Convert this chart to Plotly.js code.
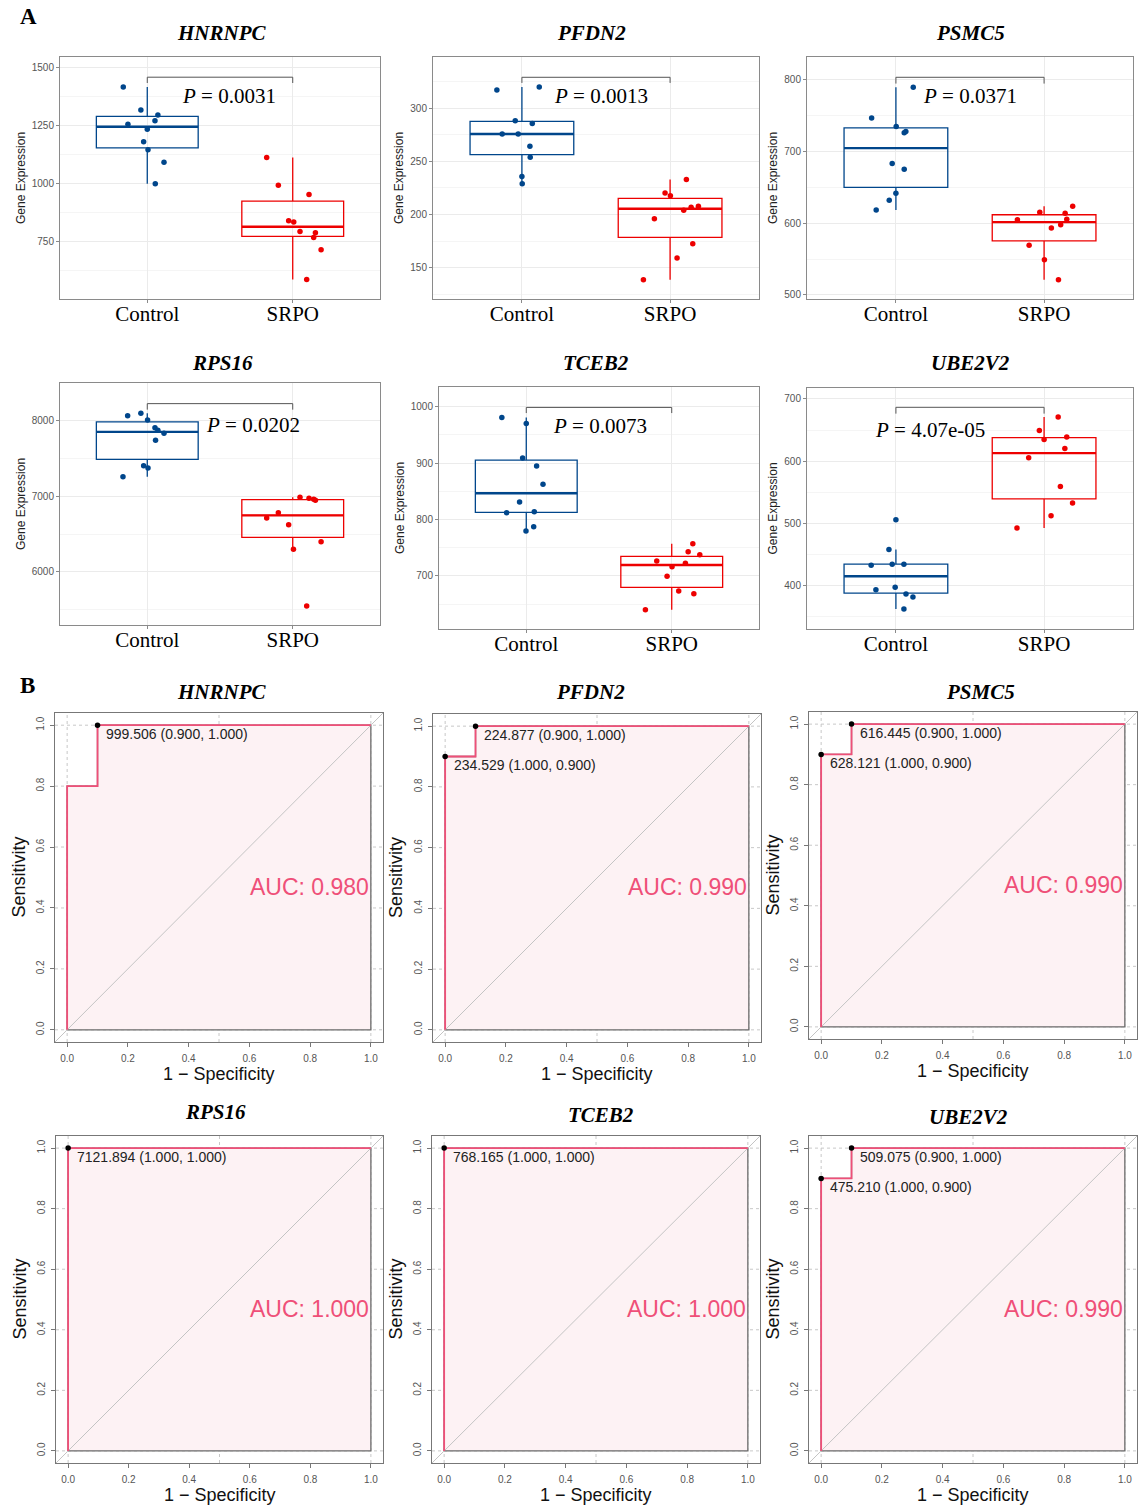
<!DOCTYPE html>
<html><head><meta charset="utf-8">
<script src="https://cdn.plot.ly/plotly-3.0.1.min.js"></script>
<style>html,body{margin:0;padding:0;background:#fff}#chart{width:1144px;height:1506px}</style>
</head><body><div id="chart"></div>
<script>
// ---------------- DATA ----------------
const genes = ['HNRNPC','PFDN2','PSMC5','RPS16','TCEB2','UBE2V2'];
const groups = ['Control','SRPO'];

// Gene expression values
const hnrnpcControl = [1418,1319,1297,1257,1272,1236,1182,1147,1093,1001];
const hnrnpcSrpo    = [1114,994,954,841,836,795,789,769,716,588];
const pfdn2Control  = [317.3,320.1,288.4,285.6,275.8,275.8,264.2,253.9,235.7,229.1];
const pfdn2Srpo     = [233.1,220.3,217.8,207.7,206.8,204.0,196.1,172.6,159.1,138.7];
const psmc5Control  = [789.8,747,734.9,727.9,726.5,683.3,675.3,641.9,632.1,618.6];
const psmc5Srpo     = [623.7,615.3,614,605.1,605.6,598.1,593.5,569.3,549.3,521.4];
const rps16Control  = [8101.5,8070.6,8013,7911.7,7876,7836.6,7744,7408,7377.5,7262.7];
const rps16Srpo     = [6989,6975,6962,6949,6786,6715,6627,6402,6300,5550];
const tceb2Control  = [981.1,970.5,909,895,862.4,831.1,812.2,814,787.4,779.7];
const tceb2Srpo     = [757.2,743.1,737.7,726.5,722.4,716.5,699.4,673.4,668.6,640.3];
const ube2v2Control = [505.6,457.4,432.2,433.8,433.8,396.8,392.6,385.6,380.8,361.5];
const ube2v2Srpo    = [671.1,649.1,638.9,634.7,620.2,605.2,559.1,532.4,512,492.2];

// Horizontal jitter of each point (in category units)
const hnrnpcControlJitter = [-0.165,-0.044,0.073,-0.133,0.053,0,-0.025,0.005,0.115,0.055];
const hnrnpcSrpoJitter    = [-0.179,-0.099,0.112,-0.028,0.007,0.050,0.156,0.144,0.195,0.096];
const pfdn2ControlJitter  = [-0.169,0.117,-0.045,0.070,-0.133,-0.025,0.054,0.056,0,0.002];
const pfdn2SrpoJitter     = [0.110,-0.034,0.002,0.191,0.142,0.092,-0.106,0.153,0.047,-0.180];
const psmc5ControlJitter  = [0.117,-0.164,0.002,0.067,0.056,-0.025,0.056,0,-0.045,-0.133];
const psmc5SrpoJitter     = [0.193,-0.029,0.142,-0.180,0.153,0.112,0.049,-0.101,0.002,0.097];
const rps16ControlJitter  = [-0.044,-0.135,0.002,0.053,0.073,0.115,0.057,-0.025,0.005,-0.167];
const rps16SrpoJitter     = [0.050,0.112,0.144,0.156,-0.099,-0.179,-0.028,0.195,0.005,0.096];
const tceb2ControlJitter  = [-0.168,0,-0.025,0.071,0.115,-0.046,-0.135,0.055,0.051,-0.002];
const tceb2SrpoJitter     = [0.145,0.113,0.193,-0.103,0.094,0.002,-0.032,0.048,0.152,-0.181];
const ube2v2ControlJitter = [0,-0.047,-0.167,-0.025,0.054,-0.005,-0.135,0.068,0.115,0.054];
const ube2v2SrpoJitter    = [0.095,-0.032,0.153,0,0.140,-0.104,0.110,0.192,0.047,-0.183];

// P values
const pValues = ['0.0031','0.0013','0.0371','0.0202','0.0073','4.07e-05'];

// ROC curves (x = 1 - specificity, y = sensitivity)
const hnrnpcRocX = [0,0,0.1,0.1,1];  const hnrnpcRocY = [0,0.8,0.8,1,1];
const pfdn2RocX  = [0,0,0.1,0.1,1];  const pfdn2RocY  = [0,0.9,0.9,1,1];
const psmc5RocX  = [0,0,0.1,0.1,1];  const psmc5RocY  = [0,0.9,0.9,1,1];
const rps16RocX  = [0,0,1];          const rps16RocY  = [0,1,1];
const tceb2RocX  = [0,0,1];          const tceb2RocY  = [0,1,1];
const ube2v2RocX = [0,0,0.1,0.1,1];  const ube2v2RocY = [0,0.9,0.9,1,1];
const aucValues = [0.980,0.990,0.990,1.000,1.000,0.990];

// Best thresholds printed on the ROC curves
const hnrnpcThrX = [0.1];      const hnrnpcThrY = [1.0];      const hnrnpcThrText = ['999.506 (0.900, 1.000)'];
const pfdn2ThrX  = [0.1,0];    const pfdn2ThrY  = [1.0,0.9];  const pfdn2ThrText  = ['224.877 (0.900, 1.000)','234.529 (1.000, 0.900)'];
const psmc5ThrX  = [0.1,0];    const psmc5ThrY  = [1.0,0.9];  const psmc5ThrText  = ['616.445 (0.900, 1.000)','628.121 (1.000, 0.900)'];
const rps16ThrX  = [0];        const rps16ThrY  = [1.0];      const rps16ThrText  = ['7121.894 (1.000, 1.000)'];
const tceb2ThrX  = [0];        const tceb2ThrY  = [1.0];      const tceb2ThrText  = ['768.165 (1.000, 1.000)'];
const ube2v2ThrX = [0.1,0];    const ube2v2ThrY = [1.0,0.9];  const ube2v2ThrText = ['509.075 (0.900, 1.000)','475.210 (1.000, 0.900)'];

const rocTicks = [0,0.2,0.4,0.6,0.8,1.0];

// ---------------- ASSEMBLY ----------------
const controlVals = [hnrnpcControl,pfdn2Control,psmc5Control,rps16Control,tceb2Control,ube2v2Control];
const srpoVals = [hnrnpcSrpo,pfdn2Srpo,psmc5Srpo,rps16Srpo,tceb2Srpo,ube2v2Srpo];
const controlJit = [hnrnpcControlJitter,pfdn2ControlJitter,psmc5ControlJitter,rps16ControlJitter,tceb2ControlJitter,ube2v2ControlJitter];
const srpoJit = [hnrnpcSrpoJitter,pfdn2SrpoJitter,psmc5SrpoJitter,rps16SrpoJitter,tceb2SrpoJitter,ube2v2SrpoJitter];
const rocX = [hnrnpcRocX,pfdn2RocX,psmc5RocX,rps16RocX,tceb2RocX,ube2v2RocX];
const rocY = [hnrnpcRocY,pfdn2RocY,psmc5RocY,rps16RocY,tceb2RocY,ube2v2RocY];
const thrX = [hnrnpcThrX,pfdn2ThrX,psmc5ThrX,rps16ThrX,tceb2ThrX,ube2v2ThrX];
const thrY = [hnrnpcThrY,pfdn2ThrY,psmc5ThrY,rps16ThrY,tceb2ThrY,ube2v2ThrY];
const thrText = [hnrnpcThrText,pfdn2ThrText,psmc5ThrText,rps16ThrText,tceb2ThrText,ube2v2ThrText];

// Layout settings (pixels / axis setup)
const W = 1144, H = 1506;
const boxFrames = [[60,380,57,299],[433,759,57,299],[807,1133,57,299],[60,380,383,625],[439,759,387,629],[807,1133,388,629]];
const boxYRange = [[504,1547],[120.5,348.3],[494.4,832],[5298,8503],[606,1035],[329.4,717.7]];
const boxDtick = [250,50,100,1000,100,100];
const bracketY = [1460,329.2,803.7,8229.6,998.8,686.6];
const bracketTickY = [1435,323.9,794.9,8150,988.8,676.4];
const pTextX = [1.56,1.533,1.50,1.73,1.51,1.23];
const pTextY = [1378,311.3,777.2,7951,966.3,650.7];
const boxTitlePos = [[222,33],[591,33],[970,33],[222,363],[596,363],[970,363]];
const yTitleOff = [39,34,34,39,39,34];
const rocFrames = [[55,383,713,1042],[433,761,714,1042],[809,1137,712,1039],[56,383,1136,1463],[432,760,1136,1463],[809,1137,1136,1463]];
const rocTitlePos = [[222,692],[590,692],[980,692],[215,1112],[601,1115],[969,1117]];

const COL_CTRL = '#00468B', COL_SRPO = '#ED0000';
const ROC_COL = '#EF4F78';
const SERIF = 'Liberation Serif, Times New Roman, serif';
const SANS = 'Liberation Sans, Arial, sans-serif';

function q7(sorted, p){
  const h = (sorted.length-1)*p, lo = Math.floor(h);
  const hi = Math.min(lo+1, sorted.length-1);
  return sorted[lo] + (h-lo)*(sorted[hi]-sorted[lo]);
}
function boxStats(vals){
  const s = vals.slice().sort((a,b)=>a-b);
  const q1 = q7(s,0.25), med = q7(s,0.5), q3 = q7(s,0.75), iqr = q3-q1;
  const lf = Math.min(...s.filter(v=>v>=q1-1.5*iqr));
  const uf = Math.max(...s.filter(v=>v<=q3+1.5*iqr));
  return {q1,med,q3,lf,uf};
}
const px = x => x/W, py = y => 1 - y/H;
function paperText(text, x, y, font, extra){
  return Object.assign({text, x:px(x), y:py(y), xref:'paper', yref:'paper', showarrow:false,
    xanchor:'center', yanchor:'middle', font}, extra||{});
}

const traces = [], annotations = [], shapes = [];
const layout = {
  width: W, height: H, margin:{l:0,r:0,t:0,b:0},
  paper_bgcolor:'#fff', plot_bgcolor:'#fff', showlegend:false,
  font:{family:SANS}
};

annotations.push(paperText('<b>A</b>', 28, 17, {family:SERIF,size:23,color:'#000'}));
annotations.push(paperText('<b>B</b>', 27, 685, {family:SERIF,size:23,color:'#000'}));

const BOXW = 0.7;
genes.forEach((g,i)=>{
  const ax = i===0 ? '' : String(i+1);
  const xa = 'x'+ax, ya = 'y'+ax;
  const f = boxFrames[i];
  layout['xaxis'+ax] = {
    domain:[px(f[0]), px(f[1])], anchor: ya, range:[0.4,2.6],
    tickvals:[1,2], ticktext: groups, showgrid:true, gridcolor:'#ebebeb', gridwidth:1,
    zeroline:false, showline:true, mirror:true, linecolor:'#8a8a8a', linewidth:1,
    ticks:'outside', ticklen:3, tickcolor:'#8a8a8a', ticklabelstandoff:-7,
    tickfont:{family:SERIF, size:21, color:'#000'}, fixedrange:true
  };
  layout['yaxis'+ax] = {
    domain:[py(f[3]), py(f[2])], anchor: xa, range: boxYRange[i],
    tick0:0, dtick: boxDtick[i], showgrid:true, gridcolor:'#ebebeb', gridwidth:1,
    minor:{tick0:0, dtick: boxDtick[i]/2, showgrid:true, gridcolor:'#f5f5f5', gridwidth:1, ticks:''},
    zeroline:false, showline:true, mirror:true, linecolor:'#8a8a8a', linewidth:1,
    ticks:'outside', ticklen:3, tickcolor:'#8a8a8a',
    tickfont:{family:SANS, size:10, color:'#555'}, fixedrange:true
  };
  [[controlVals[i], controlJit[i], COL_CTRL, 1], [srpoVals[i], srpoJit[i], COL_SRPO, 2]].forEach(([vals, jit, col, pos])=>{
    const st = boxStats(vals);
    traces.push({type:'box', x:[pos], q1:[st.q1], median:[st.med], q3:[st.q3], lowerfence:[st.lf], upperfence:[st.uf],
      width:BOXW, whiskerwidth:0, boxpoints:false, line:{color:col, width:1.3}, fillcolor:'rgba(255,255,255,0)',
      xaxis:xa, yaxis:ya, hoverinfo:'skip'});
    traces.push({type:'scatter', mode:'lines', x:[pos-BOXW/2, pos+BOXW/2], y:[st.med, st.med],
      line:{color:col, width:2.4}, xaxis:xa, yaxis:ya, hoverinfo:'skip'});
    traces.push({type:'scatter', mode:'markers', x: vals.map((v,k)=>pos+jit[k]), y: vals,
      marker:{color:col, size:5.5}, xaxis:xa, yaxis:ya, hoverinfo:'skip'});
  });
  // significance bracket
  traces.push({type:'scatter', mode:'lines', x:[1,1,2,2], y:[bracketTickY[i],bracketY[i],bracketY[i],bracketTickY[i]],
    line:{color:'#555', width:1}, xaxis:xa, yaxis:ya, hoverinfo:'skip'});
  annotations.push({text:'<i>P</i> = '+pValues[i], x:pTextX[i], y:pTextY[i], xref:xa, yref:ya, showarrow:false,
    xanchor:'center', yanchor:'middle', font:{family:SERIF, size:21, color:'#000'}});
  annotations.push(paperText('<b><i>'+g+'</i></b>', boxTitlePos[i][0], boxTitlePos[i][1], {family:SERIF, size:21, color:'#000'}));
  annotations.push(paperText('Gene Expression', f[0]-yTitleOff[i], (f[2]+f[3])/2, {family:SANS, size:12, color:'#222'}, {textangle:-90}));
});

genes.forEach((g,i)=>{
  const n = i+7;
  const ax = String(n);
  const xa = 'x'+ax, ya = 'y'+ax;
  const f = rocFrames[i];
  const common = {range:[-0.04,1.04], tickvals:rocTicks, tickformat:'.1f', showgrid:false, zeroline:false,
    showline:true, mirror:true, linecolor:'#777', linewidth:1.2, ticks:'outside', ticklen:4, tickcolor:'#777',
    tickfont:{family:SANS, size:10, color:'#555'}, fixedrange:true};
  layout['xaxis'+ax] = Object.assign({domain:[px(f[0]),px(f[1])], anchor:ya, ticklabelstandoff:3}, common);
  layout['yaxis'+ax] = Object.assign({domain:[py(f[3]),py(f[2])], anchor:xa, tickangle:-90, ticklabelstandoff:2}, common);
  // dotted grid
  [0,0.5,1].forEach(v=>shapes.push({type:'line', xref:xa, yref:ya, x0:v, x1:v, y0:-0.04, y1:1.04, layer:'below',
    line:{color:'#c8c8c8', width:1, dash:'dot'}}));
  rocTicks.forEach(v=>shapes.push({type:'line', xref:xa, yref:ya, x0:-0.04, x1:1.04, y0:v, y1:v, layer:'below',
    line:{color:'#c8c8c8', width:1, dash:'dot'}}));
  const rx = rocX[i], ry = rocY[i];
  // AUC polygon
  traces.push({type:'scatter', mode:'lines', x: rx.concat([rx[rx.length-1], rx[0]]), y: ry.concat([ry[0], ry[0]]),
    fill:'toself', fillcolor:'#FDF2F4', line:{color:'#6a6a6a', width:1.3}, xaxis:xa, yaxis:ya, hoverinfo:'skip'});
  // identity line
  traces.push({type:'scatter', mode:'lines', x:[-0.04,1.04], y:[-0.04,1.04], line:{color:'#c4c4c4', width:1},
    xaxis:xa, yaxis:ya, hoverinfo:'skip'});
  // ROC curve
  traces.push({type:'scatter', mode:'lines', x: rx, y: ry, line:{color:ROC_COL, width:1.8}, xaxis:xa, yaxis:ya, hoverinfo:'skip'});
  // thresholds
  traces.push({type:'scatter', mode:'markers', x: thrX[i], y: thrY[i], marker:{color:'#000', size:5.5}, xaxis:xa, yaxis:ya, hoverinfo:'skip'});
  thrText[i].forEach((t,k)=>annotations.push({text:t, x:thrX[i][k]+0.022, y:thrY[i][k]+0.004, xref:xa, yref:ya, showarrow:false,
    xanchor:'left', yanchor:'top', font:{family:SANS, size:14, color:'#222'}}));
  annotations.push({text:'AUC: '+aucValues[i].toFixed(3), x:1.0, y:0.47, xref:xa, yref:ya, showarrow:false,
    xanchor:'right', yanchor:'middle', font:{family:SANS, size:23, color:ROC_COL}});
  annotations.push(paperText('<b><i>'+g+'</i></b>', rocTitlePos[i][0], rocTitlePos[i][1], {family:SERIF, size:21, color:'#000'}));
  annotations.push(paperText('1 \u2212 Specificity', (f[0]+f[1])/2, f[3]+32, {family:SANS, size:18, color:'#111'}));
  annotations.push(paperText('Sensitivity', f[0]-37, (f[2]+f[3])/2, {family:SANS, size:18, color:'#111'}, {textangle:-90}));
});

layout.annotations = annotations;
layout.shapes = shapes;
Plotly.newPlot('chart', traces, layout, {staticPlot:true, displayModeBar:false});
</script></body></html>
